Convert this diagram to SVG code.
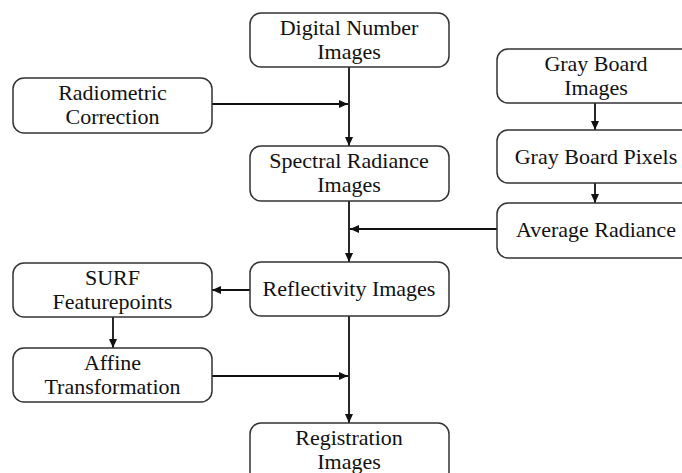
<svg xmlns="http://www.w3.org/2000/svg" width="682" height="473" viewBox="0 0 682 473">
  <defs>
    <marker id="arrow" viewBox="0 0 9 8" markerWidth="9" markerHeight="8" refX="9" refY="4" orient="auto" markerUnits="userSpaceOnUse">
      <path d="M0,0 L9,4 L0,8 z" fill="#111"/>
    </marker>
  </defs>
  <style>
    .box { fill: #fff; stroke: #333; stroke-width: 1.5; }
    .lbl { font-family: "Liberation Serif", "Times New Roman", serif; font-size: 22px; fill: #111; text-anchor: middle; }
    .edge { stroke: #111; stroke-width: 1.8; fill: none; marker-end: url(#arrow); }
  </style>
  <rect width="682" height="473" fill="#fff"/>

  <g id="connectors">
    <line class="edge" x1="349" y1="67" x2="349" y2="146"/>
    <line class="edge" x1="212" y1="104" x2="348" y2="104"/>
    <line class="edge" x1="349" y1="201" x2="349" y2="262"/>
    <line class="edge" x1="497" y1="229" x2="350" y2="229"/>
    <line class="edge" x1="595" y1="103" x2="595" y2="130"/>
    <line class="edge" x1="595" y1="183" x2="595" y2="203"/>
    <line class="edge" x1="250" y1="290" x2="212" y2="290"/>
    <line class="edge" x1="113" y1="317" x2="113" y2="348"/>
    <line class="edge" x1="349" y1="316" x2="349" y2="423"/>
    <line class="edge" x1="212" y1="376" x2="348" y2="376"/>
  </g>

  <g id="digital-number">
    <rect class="box" x="250" y="13" width="199" height="54" rx="11"/>
    <text class="lbl" x="349" y="35">Digital Number</text>
    <text class="lbl" x="349" y="59">Images</text>
  </g>
  <g id="radiometric-correction">
    <rect class="box" x="13" y="78" width="199" height="55" rx="11"/>
    <text class="lbl" x="112.5" y="100">Radiometric</text>
    <text class="lbl" x="112.5" y="124">Correction</text>
  </g>
  <g id="spectral-radiance">
    <rect class="box" x="250" y="146" width="199" height="55" rx="11"/>
    <text class="lbl" x="349" y="168">Spectral Radiance</text>
    <text class="lbl" x="349" y="192">Images</text>
  </g>
  <g id="gray-board-images">
    <rect class="box" x="497" y="49" width="200" height="54" rx="11"/>
    <text class="lbl" x="596" y="71">Gray Board</text>
    <text class="lbl" x="596" y="95">Images</text>
  </g>
  <g id="gray-board-pixels">
    <rect class="box" x="497" y="130" width="200" height="53" rx="11"/>
    <text class="lbl" x="596" y="164">Gray Board Pixels</text>
  </g>
  <g id="average-radiance">
    <rect class="box" x="497" y="203" width="200" height="55" rx="11"/>
    <text class="lbl" x="596" y="237">Average Radiance</text>
  </g>
  <g id="reflectivity">
    <rect class="box" x="250" y="262" width="199" height="54" rx="11"/>
    <text class="lbl" x="349" y="296">Reflectivity Images</text>
  </g>
  <g id="surf-featurepoints">
    <rect class="box" x="13" y="263" width="199" height="54" rx="11"/>
    <text class="lbl" x="112.5" y="285">SURF</text>
    <text class="lbl" x="112.5" y="309">Featurepoints</text>
  </g>
  <g id="affine-transformation">
    <rect class="box" x="13" y="348" width="199" height="54" rx="11"/>
    <text class="lbl" x="112.5" y="370">Affine</text>
    <text class="lbl" x="112.5" y="394">Transformation</text>
  </g>
  <g id="registration">
    <rect class="box" x="250" y="423" width="199" height="60" rx="11"/>
    <text class="lbl" x="349" y="445">Registration</text>
    <text class="lbl" x="349" y="469">Images</text>
  </g>
</svg>
